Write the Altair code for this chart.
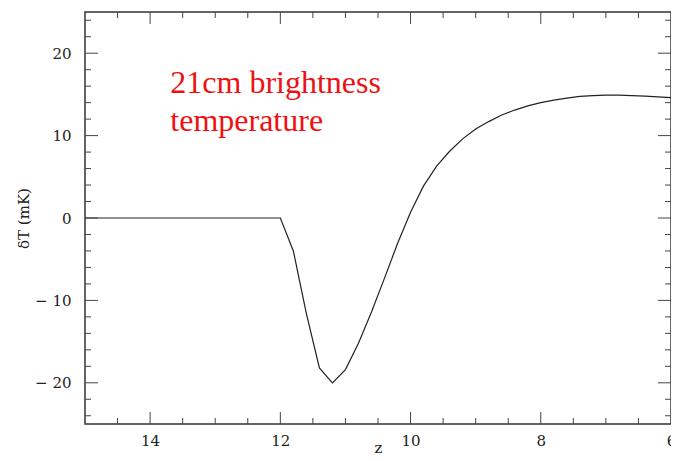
import altair as alt
import pandas as pd

# curve data (z, deltaT in mK)
z_vals = [15.0, 14.0, 13.0, 12.0, 11.8, 11.6, 11.4, 11.2, 11.0, 10.8, 10.6, 10.4, 10.2,
          10.0, 9.8, 9.6, 9.4, 9.2, 9.0, 8.8, 8.6, 8.4, 8.2, 8.0, 7.8, 7.6, 7.4, 7.2,
          7.0, 6.8, 6.6, 6.4, 6.2, 6.0]
dT_vals = [0.0, 0.0, 0.0, 0.0, -4.0, -11.6, -18.2, -20.0, -18.4, -15.2, -11.4, -7.3, -3.1,
           0.7, 3.9, 6.3, 8.1, 9.6, 10.8, 11.7, 12.5, 13.1, 13.6, 14.0, 14.3, 14.55, 14.75, 14.85,
           14.9, 14.9, 14.85, 14.8, 14.7, 14.6]

x_labels = [14, 12, 10, 8, 6]
x_major = [14, 12, 10, 8]
x_minor = [14.5, 13.5, 13, 12.5, 11.5, 11, 10.5, 9.5, 9, 8.5, 7.5, 7, 6.5]
y_major = [-20, -10, 0, 10, 20]
y_minor = [-24, -22, -18, -16, -14, -12, -8, -6, -4, -2, 2, 4, 6, 8, 12, 14, 16, 18, 22, 24]

ann_lines = ["21cm brightness", "temperature"]
ann_z = [13.69, 13.69]
ann_y = [15.2, 10.5]

W, H = 586, 412
FONT = "DejaVu Serif"
XT, YT = "z", "δT (mK)"

xs = alt.Scale(domain=[6, 15], reverse=True, nice=False, zero=False)
ys = alt.Scale(domain=[-25, 25], nice=False, zero=False)

df = pd.DataFrame({"z": z_vals, "dT": dT_vals})

line = alt.Chart(df).mark_line(color="#222", strokeWidth=1.2).encode(
    x=alt.X("z:Q", scale=xs, title=XT,
            axis=alt.Axis(values=x_labels, format="d", ticks=False, grid=False, domain=False,
                          labelFont=FONT, labelFontSize=15, labelColor="#222",
                          labelPadding=9, titleFont=FONT, titleFontSize=15,
                          titleFontWeight="normal", titleColor="#222",
                          titleY=28, titleBaseline="alphabetic",
                          labelFlush=False)),
    y=alt.Y("dT:Q", scale=ys, title=YT,
            axis=alt.Axis(values=y_major, ticks=False, grid=False, domain=False,
                          labelFont=FONT, labelFontSize=15, labelColor="#222",
                          labelPadding=14,
                          labelExpr="datum.value < 0 ? '\u2212 ' + abs(datum.value) : datum.value",
                          titleFont=FONT, titleFontSize=15, titleFontWeight="normal",
                          titleColor="#222", titleX=-54, titleY=206)),
)

def xticks(vals, y0, y1):
    return alt.Chart(pd.DataFrame({"t": vals})).mark_rule(color="#444", strokeWidth=1).encode(
        x=alt.X("t:Q", scale=xs, title=XT), y=alt.value(y0), y2=alt.value(y1))

def yticks(vals, x0, x1):
    return alt.Chart(pd.DataFrame({"t": vals})).mark_rule(color="#444", strokeWidth=1).encode(
        y=alt.Y("t:Q", scale=ys, title=YT), x=alt.value(x0), x2=alt.value(x1))

ticks = [
    xticks(x_major, H, H - 12), xticks(x_minor, H, H - 6),
    xticks(x_major, 0, 12), xticks(x_minor, 0, 6),
    yticks(y_major, 0, 13), yticks(y_minor, 0, 6),
    yticks(y_major, W, W - 13), yticks(y_minor, W, W - 6),
]

ann = alt.Chart(pd.DataFrame({"t": ann_lines, "z": ann_z, "y": ann_y})).mark_text(
    align="left", baseline="alphabetic", font="Liberation Serif", fontSize=32, color="#ee1111"
).encode(x=alt.X("z:Q", scale=xs, title=XT), y=alt.Y("y:Q", scale=ys, title=YT), text="t:N")

chart = alt.layer(line, *ticks, ann).properties(
    width=W, height=H,
    autosize=alt.AutoSizeParams(type="none"),
    padding={"left": 77, "top": 4, "right": 0, "bottom": 29},
    background="white",
).configure_view(stroke="#333", strokeWidth=1.5)

chart.save("out.html", embed_options={"renderer": "svg", "actions": False})
